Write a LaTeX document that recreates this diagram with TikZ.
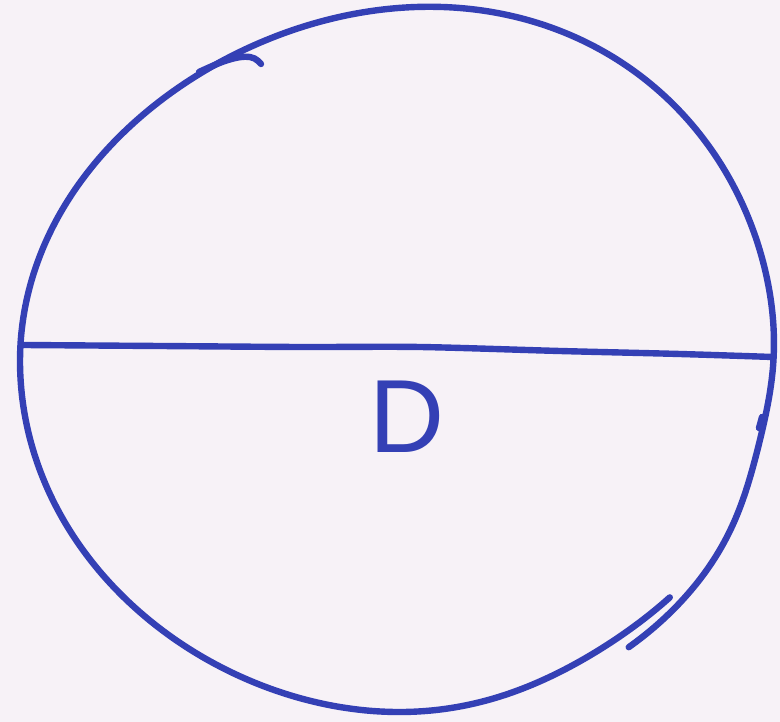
\documentclass[tikz,border=0pt]{standalone}
\usepackage{fontspec}
\setmainfont{Liberation Sans}
\definecolor{bgc}{HTML}{F7F2F7}
\definecolor{ink}{HTML}{3440B5}
\begin{document}
\begin{tikzpicture}[x=1pt,y=-1pt,
  pen/.style={draw=ink,line width=6.4pt,line cap=round,line join=round},
  declare function={
    dr(\t)=(sin(\t)>0?30:14)*cos(\t)*sin(\t)^2
           - 7*exp(-min(((\t+14)/14)^2,30))
           - 14*exp(-min(((\t-305)/25)^2,30));
  }]
\fill[bgc] (0,0) rectangle (780,722);
\useasboundingbox (0,0) rectangle (780,722);
% main circle stroke (hand-drawn ellipse)
\draw[pen] plot[domain=-53:317,samples=300,variable=\t,smooth]
  ({398+(378+dr(\t))*cos(\t)}, {361-(353+dr(\t))*sin(\t)});
% top-left hook
\draw[pen] plot[smooth,tension=0.7] coordinates {(199,72) (228,60) (250,57) (261,64)};
% small kink at right
\draw[pen] (762,417) -- (759,428);
% diameter
\coordinate (L) at (24,345);
\coordinate (R) at (773,357);
\draw[pen] plot[smooth,tension=0.5] coordinates {(L) (160,346) (300,347) (420,347) (560,351) (680,354) (R)};
% label
\node[text=ink,font=\fontsize{104}{104}\selectfont,inner sep=0pt] (D) at (407,417) {D};
\end{tikzpicture}
\end{document}
